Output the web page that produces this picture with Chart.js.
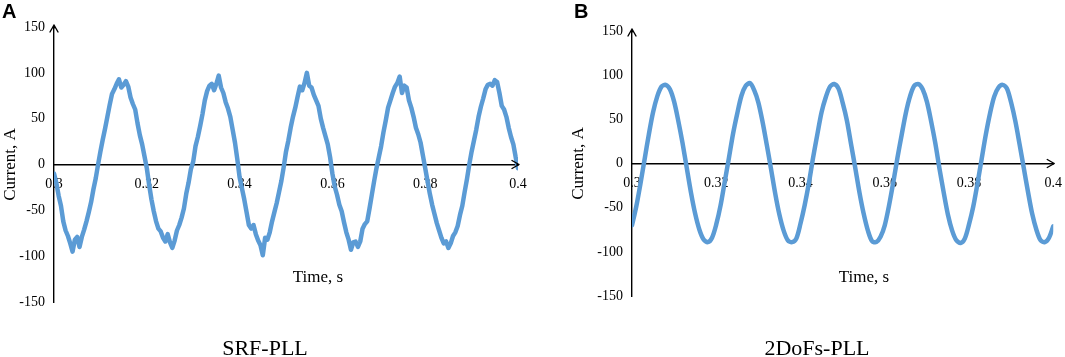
<!DOCTYPE html>
<html><head><meta charset="utf-8">
<script src="https://cdn.jsdelivr.net/npm/chart.js@4.4.1/dist/chart.umd.min.js"></script>
<style>
html,body{margin:0;padding:0;background:#fff;width:1065px;height:357px;overflow:hidden;}
canvas{position:absolute;top:0;}
#cA{left:0px}
#cB{left:532px}
</style></head><body>
<canvas id="cA" width="532" height="357"></canvas>
<canvas id="cB" width="533" height="357"></canvas>
<script>
// ---- data ----
const timeStartA = 0.3;
const timeStepA = 0.0005;
const currentA = [
 -10,-20,-34,-45,-62,-72,-78,-86,-95,-82,-79,-90,-79,-71,-62,-52,-41,-27,-15,0,
 14,27,39,52,65,77,82,88,93,84,87,91,85,73,66,60,45,32,22,9,
 -4,-22,-38,-51,-62,-70,-73,-80,-84,-76,-85,-91,-83,-72,-66,-58,-48,-32,-20,-5,
 3,20,30,42,55,70,80,86,88,81,88,97,84,78,68,61,52,38,24,6,
 -14,-26,-38,-52,-66,-70,-66,-76,-83,-88,-99,-80,-82,-74,-62,-52,-42,-30,-18,-3,
 14,26,40,52,62,74,85,81,89,100,86,84,76,70,64,50,40,31,22,8,
 -10,-24,-33,-44,-51,-63,-74,-82,-93,-85,-84,-90,-84,-70,-65,-62,-48,-33,-18,-4,
 8,20,35,48,62,70,78,85,89,96,78,86,84,70,62,52,40,33,24,10,
 -4,-18,-32,-44,-54,-64,-72,-80,-86,-84,-91,-86,-78,-74,-67,-55,-45,-30,-16,0,
 14,26,38,52,63,72,82,87,88,86,92,90,78,64,60,52,40,30,22,8,
 -4
];
const timeStartB = 0.3;
const timeStepB = 0.001;
const currentB = [
 -70,-49,-23,5,33,58,76,87,89,84,70,48,23,-5,-33,-57,-75,-86,-89,-84,
 -69,-48,-21,6,34,57,77,88,91,83,69,47,21,-6,-34,-58,-76,-87,-89,-85,
 -68,-47,-22,7,33,58,75,87,90,85,69,49,22,-5,-33,-57,-76,-88,-89,-83,
 -70,-48,-22,6,32,57,76,88,90,84,70,48,23,-6,-33,-58,-76,-87,-90,-85,
 -69,-49,-23,5,33,57,76,86,89,85,69,48,22,-5,-32,-57,-75,-87,-89,-84,
 -71
];
const xTickValues = [0.3,0.32,0.34,0.36,0.38,0.4];
const xTickLabels = ['0.3','0.32','0.34','0.36','0.38','0.4'];
const yTickValues = [-150,-100,-50,0,50,100,150];
const yTickLabels = ['-150','-100','-50','0','50','100','150'];
const panelLetters = ['A','B'];
const panelTitles = ['SRF-PLL','2DoFs-PLL'];
const xAxisTitle = 'Time, s';
const yAxisTitle = 'Current, A';

// ---- helpers ----
function toPoints(start, step, values){
  return values.map((v,i)=>({x: +(start + i*step).toFixed(4), y: v}));
}

const decor = {
  id:'decor',
  afterDraw(chart, args, o){
    const ctx = chart.ctx;
    const ys = chart.scales.y;
    const left = chart.chartArea.left, right = chart.chartArea.right;
    const top = chart.chartArea.top;
    const y0 = ys.getPixelForValue(0);
    ctx.save();
    ctx.strokeStyle = '#000'; ctx.lineWidth = 1.4; ctx.lineCap='round'; ctx.lineJoin='round';
    ctx.beginPath();
    ctx.moveTo(left, top+1); ctx.lineTo(left, top-2);
    ctx.moveTo(left-4, top+5); ctx.lineTo(left, top-2); ctx.lineTo(left+4, top+5);
    ctx.stroke();
    ctx.beginPath();
    ctx.moveTo(right-1, y0); ctx.lineTo(right+1, y0);
    ctx.moveTo(right-6, y0-4); ctx.lineTo(right+1, y0); ctx.lineTo(right-6, y0+4);
    ctx.stroke();
    ctx.fillStyle = '#000';
    ctx.font = 'bold 20px "Liberation Sans", Arial, sans-serif';
    ctx.textAlign = 'left'; ctx.textBaseline = 'alphabetic';
    ctx.fillText(o.letter, o.letterX, 18);
    ctx.font = '17px "Liberation Serif", "Times New Roman", serif';
    ctx.textAlign = 'center'; ctx.textBaseline = 'middle';
    ctx.fillText(xAxisTitle, o.xTitleX, 278);
    ctx.font = '22px "Liberation Serif", "Times New Roman", serif';
    ctx.fillText(o.title, o.titleX, 349);
    ctx.restore();
  }
};

function makeChart(id, points, c){
  const tickFont = {family:'"Liberation Serif", "Times New Roman", serif', size:14};
  return new Chart(document.getElementById(id), {
    type:'line',
    data:{datasets:[{data:points, borderColor:'#5B9BD5', borderWidth:4.5, pointRadius:0,
      tension:c.tension, fill:false, borderJoinStyle:'round', borderCapStyle:'round'}]},
    options:{
      responsive:false, animation:false, devicePixelRatio:1,
      layout:{padding:{left:c.padL, right:c.padR, top:c.padT, bottom:c.padB}},
      plugins:{legend:{display:false}, tooltip:{enabled:false}, title:{display:false},
        decor:{letter:c.letter, letterX:c.letterX, xTitleX:c.xTitleX, title:c.title, titleX:c.titleX}},
      scales:{
        x:{type:'linear', position:{y:0}, min:0.3, max:0.4,
          afterBuildTicks:s=>{ s.ticks = xTickValues.map(v=>({value:v})); },
          ticks:{callback:(v,i)=>xTickLabels[i], font:tickFont, color:'#000', padding:3, maxRotation:0, autoSkip:false},
          grid:{display:false, drawTicks:true, tickLength:8},
          border:{display:true, color:'#000', width:1.4}},
        y:{type:'linear', min:-150, max:150,
          afterBuildTicks:s=>{ s.ticks = yTickValues.map(v=>({value:v})); },
          afterFit:s=>{ s.width = c.yWidth; },
          ticks:{callback:(v,i)=>yTickLabels[i], font:tickFont, color:'#000', padding:1, autoSkip:false},
          grid:{display:false, drawTicks:true, tickLength:8},
          border:{display:true, color:'#000', width:1.4},
          title:{display:true, text:yAxisTitle, color:'#000', padding:0,
            font:{family:'"Liberation Serif", "Times New Roman", serif', size:17}}}
      }
    },
    plugins:[decor]
  });
}

makeChart('cA', toPoints(timeStartA, timeStepA, currentA),
  {tension:0, padL:0, yWidth:54, padR:14, padT:27, padB:55,
   letter:panelLetters[0], letterX:2, xTitleX:318, title:panelTitles[0], titleX:265});
makeChart('cB', toPoints(timeStartB, timeStepB, currentB),
  {tension:0.3, padL:36, yWidth:64, padR:8, padT:31, padB:61,
   letter:panelLetters[1], letterX:42, xTitleX:332, title:panelTitles[1], titleX:285});
</script>
</body></html>
